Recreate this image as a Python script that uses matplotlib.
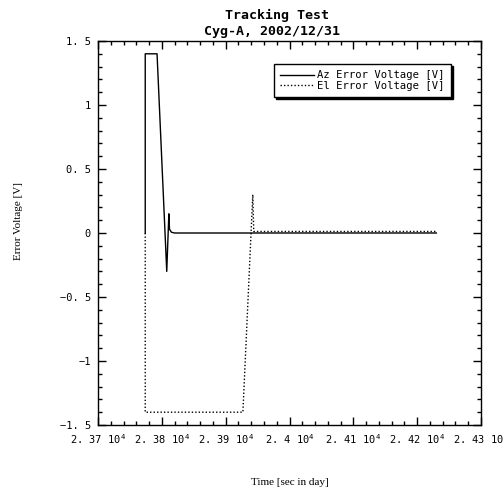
import matplotlib.pyplot as plt
from matplotlib.ticker import MultipleLocator

plt.rcParams['mathtext.fontset'] = 'custom'
plt.rcParams['mathtext.rm'] = 'DejaVu Sans Mono'

# Az error voltage
az_t = [23774, 23774, 23792.5, 23807.7, 23811, 23812, 23815, 23820, 24230]
az_v = [0, 1.4, 1.4, -0.30, 0.15, 0.03, 0.006, 0.0, 0.0]

# El error voltage
el_t = [23774, 23774, 23927, 23942.5, 23944, 24230]
el_v = [0, -1.4, -1.4, 0.30, 0.012, 0.012]

xticks = [23700, 23800, 23900, 24000, 24100, 24200, 24300]
xticklabels = ["2. 37 $10^4$", "2. 38 $10^4$", "2. 39 $10^4$", "2. 4 $10^4$",
               "2. 41 $10^4$", "2. 42 $10^4$", "2. 43 $10^4$"]
yticks = [-1.5, -1, -0.5, 0, 0.5, 1, 1.5]
yticklabels = ["\u22121. 5", "\u22121", "\u22120. 5", "0", "0. 5", "1", "1. 5"]

mono = "DejaVu Sans Mono"
serif = "Liberation Serif"

fig = plt.figure(figsize=(5.04, 4.91), dpi=100)
ax = fig.add_axes([98 / 504, (491 - 425) / 491, 383 / 504, 384 / 491])

ax.plot(az_t, az_v, color="black", lw=1.0, label="Az Error Voltage [V]")
ax.plot(el_t, el_v, color="black", lw=1.0, ls=(0, (1, 1.5)), label="El Error Voltage [V]")

ax.set_xlim(23700, 24300)
ax.set_ylim(-1.5, 1.5)
ax.set_xticks(xticks)
ax.set_xticklabels(xticklabels, fontfamily=mono, fontsize=7.5)
ax.set_yticks(yticks)
ax.set_yticklabels(yticklabels, fontfamily=mono, fontsize=7.5)
ax.xaxis.set_minor_locator(MultipleLocator(20))
ax.yaxis.set_minor_locator(MultipleLocator(0.1))
ax.tick_params(which="both", direction="in", top=True, right=True, width=1, color="black")
ax.tick_params(which="major", length=6, pad=5)
ax.tick_params(which="minor", length=3)
for s in ax.spines.values():
    s.set_linewidth(1)

ax.set_xlabel("Time [sec in day]", fontfamily=serif, fontsize=8)
ax.xaxis.set_label_coords(0.5, -0.137)
ax.set_ylabel("Error Voltage [V]", fontfamily=serif, fontsize=8)
ax.yaxis.set_label_coords(-0.195, 0.53)

fig.text(277 / 504, 1 - 15 / 491, "Tracking Test", ha="center", va="center",
         fontfamily=mono, fontweight="bold", fontsize=9.5)
fig.text(272 / 504, 1 - 31 / 491, "Cyg-A, 2002/12/31", ha="center", va="center",
         fontfamily=mono, fontweight="bold", fontsize=9.5)

leg = ax.legend(loc="upper right", bbox_to_anchor=(0.922, 0.94), fancybox=False,
                shadow={"color": "black", "alpha": 1, "ox": 1.5, "oy": -1.5},
                edgecolor="black", framealpha=1, borderaxespad=0,
                prop={"family": mono, "size": 7.6}, handlelength=3.2,
                handletextpad=0.3, labelspacing=0.05, borderpad=0.6)
leg.get_frame().set_linewidth(1)

fig.savefig("out.png", dpi=100)
